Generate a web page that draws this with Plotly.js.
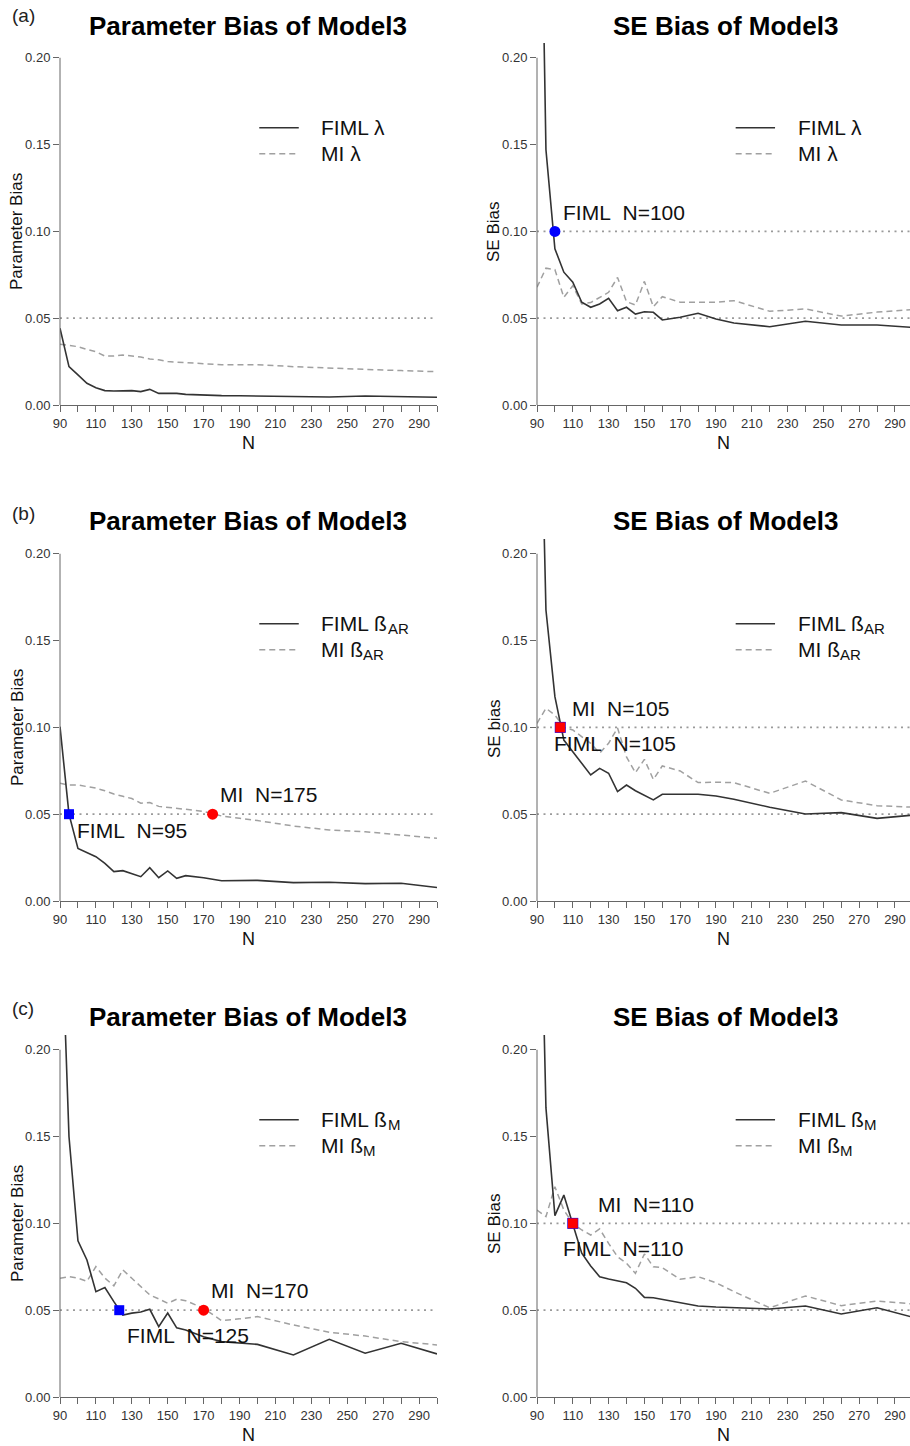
<!DOCTYPE html>
<html>
<head>
<meta charset="utf-8">
<script src="https://cdn.plot.ly/plotly-3.0.1.min.js"></script>
<style>html,body{margin:0;padding:0;background:#fff;overflow:hidden}</style>
</head>
<body>
<div id="chart" style="width:910px;height:1446px"></div>
<script>
// ---------------- data ----------------
const sampleSizes = [90,95,100,105,110,115,120,125,130,135,140,145,150,155,160,170,180,190,200,220,240,260,280,300];

// (a) lambda
const fimlParamLambda = [0.0442,0.0221,0.0173,0.0125,0.0100,0.0083,0.0081,0.0084,0.0083,0.0077,0.0090,0.0067,0.0067,0.0067,0.0061,0.0056,0.0054,0.0053,0.0052,0.0050,0.0046,0.0052,0.0050,0.0045];
const miParamLambda   = [0.0350,0.0344,0.0336,0.0320,0.0307,0.0282,0.0282,0.0288,0.0282,0.0276,0.0265,0.0260,0.0250,0.0247,0.0244,0.0238,0.0232,0.0232,0.0232,0.0221,0.0211,0.0205,0.0198,0.0192];
const fimlSeLambda    = [0.450,0.147,0.0900,0.0765,0.0707,0.0592,0.0563,0.0582,0.0615,0.0543,0.0563,0.0524,0.0537,0.0534,0.0490,0.0505,0.0528,0.0495,0.0472,0.0451,0.0482,0.0461,0.0461,0.0447];
const miSeLambda      = [0.0678,0.0788,0.0780,0.0620,0.0687,0.0582,0.0590,0.0620,0.0649,0.0735,0.0595,0.0576,0.0712,0.0566,0.0624,0.0592,0.0592,0.0592,0.0601,0.0540,0.0553,0.0512,0.0535,0.0550];

// (b) beta AR
const fimlParamAR = [0.1004,0.0500,0.0303,0.0278,0.0255,0.0217,0.0169,0.0175,0.0156,0.0140,0.0192,0.0134,0.0173,0.0131,0.0146,0.0134,0.0117,0.0117,0.0119,0.0106,0.0108,0.0100,0.0102,0.0078];
const miParamAR   = [0.0678,0.0668,0.0668,0.0660,0.0650,0.0635,0.0616,0.0603,0.0590,0.0563,0.0567,0.0545,0.0540,0.0535,0.0528,0.0515,0.0490,0.0476,0.0463,0.0432,0.0409,0.0399,0.0380,0.0361];
const fimlSeAR    = [0.390,0.1676,0.1177,0.0927,0.0860,0.0793,0.0726,0.0764,0.0736,0.0630,0.0668,0.0635,0.0607,0.0582,0.0615,0.0615,0.0615,0.0605,0.0586,0.0540,0.0501,0.0509,0.0476,0.0495];
const miSeAR      = [0.1023,0.1110,0.1071,0.1000,0.0985,0.0946,0.0908,0.0851,0.0908,0.0997,0.0830,0.0739,0.0816,0.0700,0.0778,0.0749,0.0682,0.0684,0.0682,0.0620,0.0691,0.0582,0.0549,0.0540];

// (c) beta M
const fimlParamM = [0.300,0.150,0.0900,0.0789,0.0607,0.0630,0.0549,0.0472,0.0483,0.0490,0.0505,0.0405,0.0484,0.0398,0.0386,0.0347,0.0319,0.0310,0.0303,0.0242,0.0332,0.0252,0.0309,0.0248];
const miParamM   = [0.0684,0.0693,0.0684,0.0666,0.0751,0.0685,0.0640,0.0732,0.0684,0.0636,0.0588,0.0565,0.0540,0.0563,0.0555,0.0511,0.0440,0.0450,0.0463,0.0415,0.0373,0.0351,0.0319,0.0300];
const fimlSeM    = [0.390,0.1665,0.1045,0.1163,0.0995,0.0828,0.0755,0.0693,0.0680,0.0667,0.0658,0.0626,0.0574,0.0572,0.0563,0.0543,0.0524,0.0518,0.0514,0.0507,0.0524,0.0478,0.0514,0.0459];
const miSeM      = [0.1077,0.1039,0.1211,0.1077,0.1000,0.0962,0.0933,0.0968,0.0885,0.0808,0.0770,0.0712,0.0824,0.0750,0.0745,0.0678,0.0693,0.0658,0.0607,0.0514,0.0582,0.0526,0.0553,0.0536];

// crossing points (N, bias) and their labels
const paramCut = 0.05;
const seCut = 0.10;
const crossSeLambdaFiml = {n:[100], bias:[0.10], label:'FIML\u00a0 N=100'};
const crossParamArFiml  = {n:[95],  bias:[0.05], label:'FIML\u00a0 N=95'};
const crossParamArMi    = {n:[175], bias:[0.05], label:'MI\u00a0 N=175'};
const crossSeArFiml     = {n:[103], bias:[0.10], label:'FIML\u00a0 N=105'};
const crossSeArMi       = {n:[103], bias:[0.10], label:'MI\u00a0 N=105'};
const crossParamMFiml   = {n:[123], bias:[0.05], label:'FIML\u00a0 N=125'};
const crossParamMMi     = {n:[170], bias:[0.05], label:'MI\u00a0 N=170'};
const crossSeMFiml      = {n:[110], bias:[0.10], label:'FIML\u00a0 N=110'};
const crossSeMMi        = {n:[110], bias:[0.10], label:'MI\u00a0 N=110'};

// tick labels
const xTickVals = [90,110,130,150,170,190,210,230,250,270,290];
const xTickText = ['90','110','130','150','170','190','210','230','250','270','290'];
const xMinorTickVals = [100,120,140,160,180,200,220,240,260,280,300];
const yTickVals = [0,0.05,0.10,0.15,0.20];
const yTickText = ['0.00','0.05','0.10','0.15','0.20'];

// legend names: main symbol + subscript
const legendFiml = 'FIML';
const legendMi = 'MI';
const paramSymbols = [{sym:'λ', sub:''}, {sym:'ß', sub:'AR'}, {sym:'ß', sub:'M'}];

const panelLetters = ['(a)','(b)','(c)'];
const paramTitle = 'Parameter Bias of Model3';
const seTitle = 'SE Bias of Model3';

// ---------------- layout helpers ----------------
const FONT = 'Liberation Sans, Arial, sans-serif';
const W = 910, H = 1446;
const rowBottom = [405, 901, 1397];
const rowDom = rowBottom.map(b => [1 - b/H, 1 - (b - 362)/H]);
const rowTitleY = [26, 521, 1017];
const rowLetterY = [16, 513, 1008];
const colLeft = [60, 537];
const colDom = [[60/W, 437/W],[537/W, 1]];
const colRange = [[90,300],[90,298.4]];
const LEG_SIZE = 21;

const panels = [
  {row:0,col:0, fiml:fimlParamLambda, mi:miParamLambda, ytitle:'Parameter Bias', cuts:[paramCut], pts:[]},
  {row:0,col:1, fiml:fimlSeLambda, mi:miSeLambda, ytitle:'SE Bias', cuts:[paramCut, seCut],
     pts:[{c:crossSeLambdaFiml, color:'#0000ff', symbol:'circle', size:11, lx:103.2, ly:0.111}]},
  {row:1,col:0, fiml:fimlParamAR, mi:miParamAR, ytitle:'Parameter Bias', cuts:[paramCut],
     pts:[{c:crossParamArFiml, color:'#0000ff', symbol:'square', size:10, lx:98.4, ly:0.0405},
          {c:crossParamArMi, color:'#ff0000', symbol:'circle', size:11, lx:178.2, ly:0.0611}]},
  {row:1,col:1, fiml:fimlSeAR, mi:miSeAR, ytitle:'SE bias', cuts:[paramCut, seCut],
     pts:[{c:crossSeArFiml, color:'#0000ff', symbol:'square', size:11, lx:98.4, ly:0.0909},
          {c:crossSeArMi, color:'#ff0000', symbol:'square', size:10, lx:108.3, ly:0.1111}]},
  {row:2,col:0, fiml:fimlParamM, mi:miParamM, ytitle:'Parameter Bias', cuts:[paramCut],
     pts:[{c:crossParamMFiml, color:'#0000ff', symbol:'square', size:10, lx:126.2, ly:0.0357},
          {c:crossParamMMi, color:'#ff0000', symbol:'circle', size:11, lx:173, ly:0.0611}]},
  {row:2,col:1, fiml:fimlSeM, mi:miSeM, ytitle:'SE Bias', cuts:[paramCut, seCut],
     pts:[{c:crossSeMFiml, color:'#0000ff', symbol:'square', size:11, lx:103.2, ly:0.0857},
          {c:crossSeMMi, color:'#ff0000', symbol:'square', size:10, lx:123.2, ly:0.1111}]}
];

// text width measurement (for placing subscripts after the legend text)
const measureCtx = document.createElement('canvas').getContext('2d');
function textWidth(t, size) {
  measureCtx.font = size + 'px "Liberation Sans", Arial, sans-serif';
  return measureCtx.measureText(t).width;
}

const traces = [];
const shapes = [];
const annotations = [];
const layout = {
  width: W, height: H,
  margin: {l:0, r:0, t:0, b:0},
  paper_bgcolor: '#fff', plot_bgcolor: '#fff',
  showlegend: false,
  font: {family: FONT, color: '#111'}
};

function legendEntry(xa, ya, yv, name, symInfo) {
  const main = name + ' ' + symInfo.sym;
  annotations.push({xref: xa, yref: ya, x:234.5, y:yv, text: main, showarrow:false,
                    xanchor:'left', yanchor:'middle', font:{family: FONT, size: LEG_SIZE, color:'#111'}});
  if (symInfo.sub) {
    annotations.push({xref: xa, yref: ya, x:234.5, y:yv, text: symInfo.sub, showarrow:false,
                      xanchor:'left', yanchor:'middle', xshift: textWidth(main, LEG_SIZE), yshift: -5,
                      font:{family: FONT, size: 15, color:'#111'}});
  }
}

panels.forEach((p, i) => {
  const k = i + 1;
  const sx = k === 1 ? '' : String(k);
  const xa = 'x' + sx, ya = 'y' + sx;
  layout['xaxis' + sx] = {
    domain: colDom[p.col], range: colRange[p.col], anchor: ya,
    tickmode: 'array', tickvals: xTickVals, ticktext: xTickText,
    ticks: 'outside', ticklen: 6, tickwidth: 1, tickcolor: '#666',
    minor: {tickvals: xMinorTickVals, ticks: 'outside', ticklen: 6, tickwidth: 1, tickcolor: '#666', showgrid: false},
    showline: true, linecolor: '#666', linewidth: 1,
    showgrid: false, zeroline: false, fixedrange: true,
    tickfont: {family: FONT, size: 13, color: '#333'},
    title: {text: 'N', font: {family: FONT, size: 18, color: '#111'}, standoff: 6}
  };
  layout['yaxis' + sx] = {
    domain: rowDom[p.row], range: [0, 0.2085], anchor: xa,
    tickmode: 'array', tickvals: yTickVals, ticktext: yTickText,
    ticks: 'outside', ticklen: 6, tickwidth: 1, tickcolor: '#666',
    showline: false, showgrid: false, zeroline: false, fixedrange: true,
    tickfont: {family: FONT, size: 13, color: '#333'}
  };
  // y axis title (placed like the reference)
  annotations.push({xref:'paper', yref:'paper', x: (colLeft[p.col] - 43)/W, y: 1 - (rowBottom[p.row] - 173)/H,
                    text: p.ytitle, textangle: -90, showarrow:false, xanchor:'center', yanchor:'middle',
                    font:{family: FONT, size: 17, color:'#111'}});
  // y axis line (only up to 0.20)
  shapes.push({type:'line', xref: xa + ' domain', yref: ya, x0:0, x1:0, y0:0, y1:0.2,
               line:{color:'#666', width:1}, layer:'above'});
  // reference dotted lines
  p.cuts.forEach(c => shapes.push({type:'line', xref: xa + ' domain', yref: ya, x0:0, x1:1, y0:c, y1:c,
               line:{color:'#9a9a9a', width:1.8, dash:'2px,4.5px'}, layer:'below'}));
  // series
  traces.push({type:'scatter', mode:'lines', x: sampleSizes, y: p.mi, xaxis: xa, yaxis: ya,
               name: 'MI', line:{color:'#a0a0a0', width:1.5, dash:'6px,4px'}, hoverinfo:'skip'});
  traces.push({type:'scatter', mode:'lines', x: sampleSizes, y: p.fiml, xaxis: xa, yaxis: ya,
               name: 'FIML', line:{color:'#333333', width:1.6}, hoverinfo:'skip'});
  // crossing markers + labels
  p.pts.forEach(pt => {
    traces.push({type:'scatter', mode:'markers', x: pt.c.n, y: pt.c.bias, xaxis: xa, yaxis: ya,
                 marker:{color: pt.color, symbol: pt.symbol, size: pt.size, line:{width:0}}, hoverinfo:'skip', cliponaxis:false});
    annotations.push({xref: xa, yref: ya, x: pt.lx, y: pt.ly, text: pt.c.label, showarrow:false,
                 xanchor:'left', yanchor:'middle', font:{family: FONT, size: 21, color:'#111'}});
  });
  // manual legend
  shapes.push({type:'line', xref: xa, yref: ya, x0:201, x1:223, y0:0.1597, y1:0.1597, line:{color:'#333', width:1.6}});
  shapes.push({type:'line', xref: xa, yref: ya, x0:201, x1:223, y0:0.1447, y1:0.1447, line:{color:'#a0a0a0', width:1.5, dash:'6px,4px'}});
  legendEntry(xa, ya, 0.1597, legendFiml, paramSymbols[p.row]);
  legendEntry(xa, ya, 0.1447, legendMi, paramSymbols[p.row]);
  // panel title
  annotations.push({xref:'paper', yref:'paper', x: p.col === 0 ? 248.5/W : 725/W, y: 1 - rowTitleY[p.row]/H,
                    text: p.col === 0 ? paramTitle : seTitle, showarrow:false, xanchor:'center', yanchor:'middle',
                    font:{family: FONT, size: 26, color:'#000', weight: 700}});
});

panelLetters.forEach((t, r) => {
  annotations.push({xref:'paper', yref:'paper', x: 10/W, y: 1 - rowLetterY[r]/H, text: t, showarrow:false,
                    xanchor:'left', yanchor:'middle', font:{family: FONT, size: 19, color:'#222'}});
});

layout.shapes = shapes;
layout.annotations = annotations;

Plotly.newPlot('chart', traces, layout, {staticPlot: true, displayModeBar: false});
</script>
</body>
</html>
